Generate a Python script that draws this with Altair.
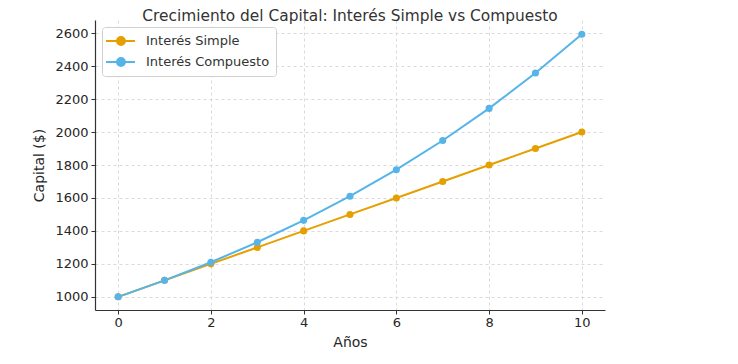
import altair as alt
import pandas as pd

years = [0, 1, 2, 3, 4, 5, 6, 7, 8, 9, 10]
simple = [1000, 1100, 1200, 1300, 1400, 1500, 1600, 1700, 1800, 1900, 2000]
compound = [1000, 1100, 1210, 1331, 1464.1, 1610.51, 1771.56, 1948.72, 2143.59, 2357.95, 2593.74]
series = ["Interés Simple", "Interés Compuesto"]
colors = ["#E69F00", "#56B4E9"]

rows = []
for y, s, c in zip(years, simple, compound):
    rows.append({"Años": y, "Capital": s, "Serie": series[0]})
    rows.append({"Años": y, "Capital": c, "Serie": series[1]})
df = pd.DataFrame(rows)

FONT = "DejaVu Sans"
sym = "M-1.43,0 L2.71,0 M0.14,0 A0.57,0.57 0 1,1 1.28,0 A0.57,0.57 0 1,1 0.14,0 Z"

color = alt.Color(
    "Serie:N",
    scale=alt.Scale(domain=series, range=colors),
    legend=alt.Legend(
        title=None, orient="none", legendX=7, legendY=7,
        symbolType=sym, symbolSize=196, symbolStrokeWidth=2,
        labelFont=FONT, labelFontSize=13, labelColor="#333333",
        fillColor="white", strokeColor="#d0d0d0", cornerRadius=3,
        padding=6, rowPadding=5, labelOffset=22,
    ),
)

base = alt.Chart(df).encode(
    x=alt.X("Años:Q", scale=alt.Scale(domain=[-0.5, 10.5], nice=False, zero=False),
            axis=alt.Axis(values=[0, 2, 4, 6, 8, 10], title="Años", format="d")),
    y=alt.Y("Capital:Q", scale=alt.Scale(domain=[920, 2680], nice=False, zero=False),
            axis=alt.Axis(values=list(range(1000, 2601, 200)), title="Capital ($)", format="d")),
)

lines = base.mark_line(strokeWidth=2).encode(color=color)
points = base.mark_circle(size=50, opacity=1).encode(color=color)

chart = alt.layer(lines, points).properties(
    width=510, height=290,
    title=alt.Title("Crecimiento del Capital: Interés Simple vs Compuesto",
                    font=FONT, fontSize=15.4, fontWeight="normal", color="#333333",
                    offset=-4),
    autosize=alt.AutoSizeParams(type="none"),
    padding={"left": 87, "top": 12, "right": 20, "bottom": 40},
).configure_view(stroke=None).configure_axis(
    labelFont=FONT, labelFontSize=13, labelColor="#262626",
    titleFont=FONT, titleFontSize=14, titleFontWeight="normal", titleColor="#262626",
    domainColor="#333333", domainWidth=1.2, tickColor="#333333", tickSize=4,
    gridColor="#d0d0d0", gridDash=[3, 3], gridWidth=0.8, labelPadding=3,
).configure_axisX(titlePadding=6, labelPadding=2).configure_axisY(titlePadding=8)

chart.save("out.html", embed_options={"renderer": "svg", "actions": False})
